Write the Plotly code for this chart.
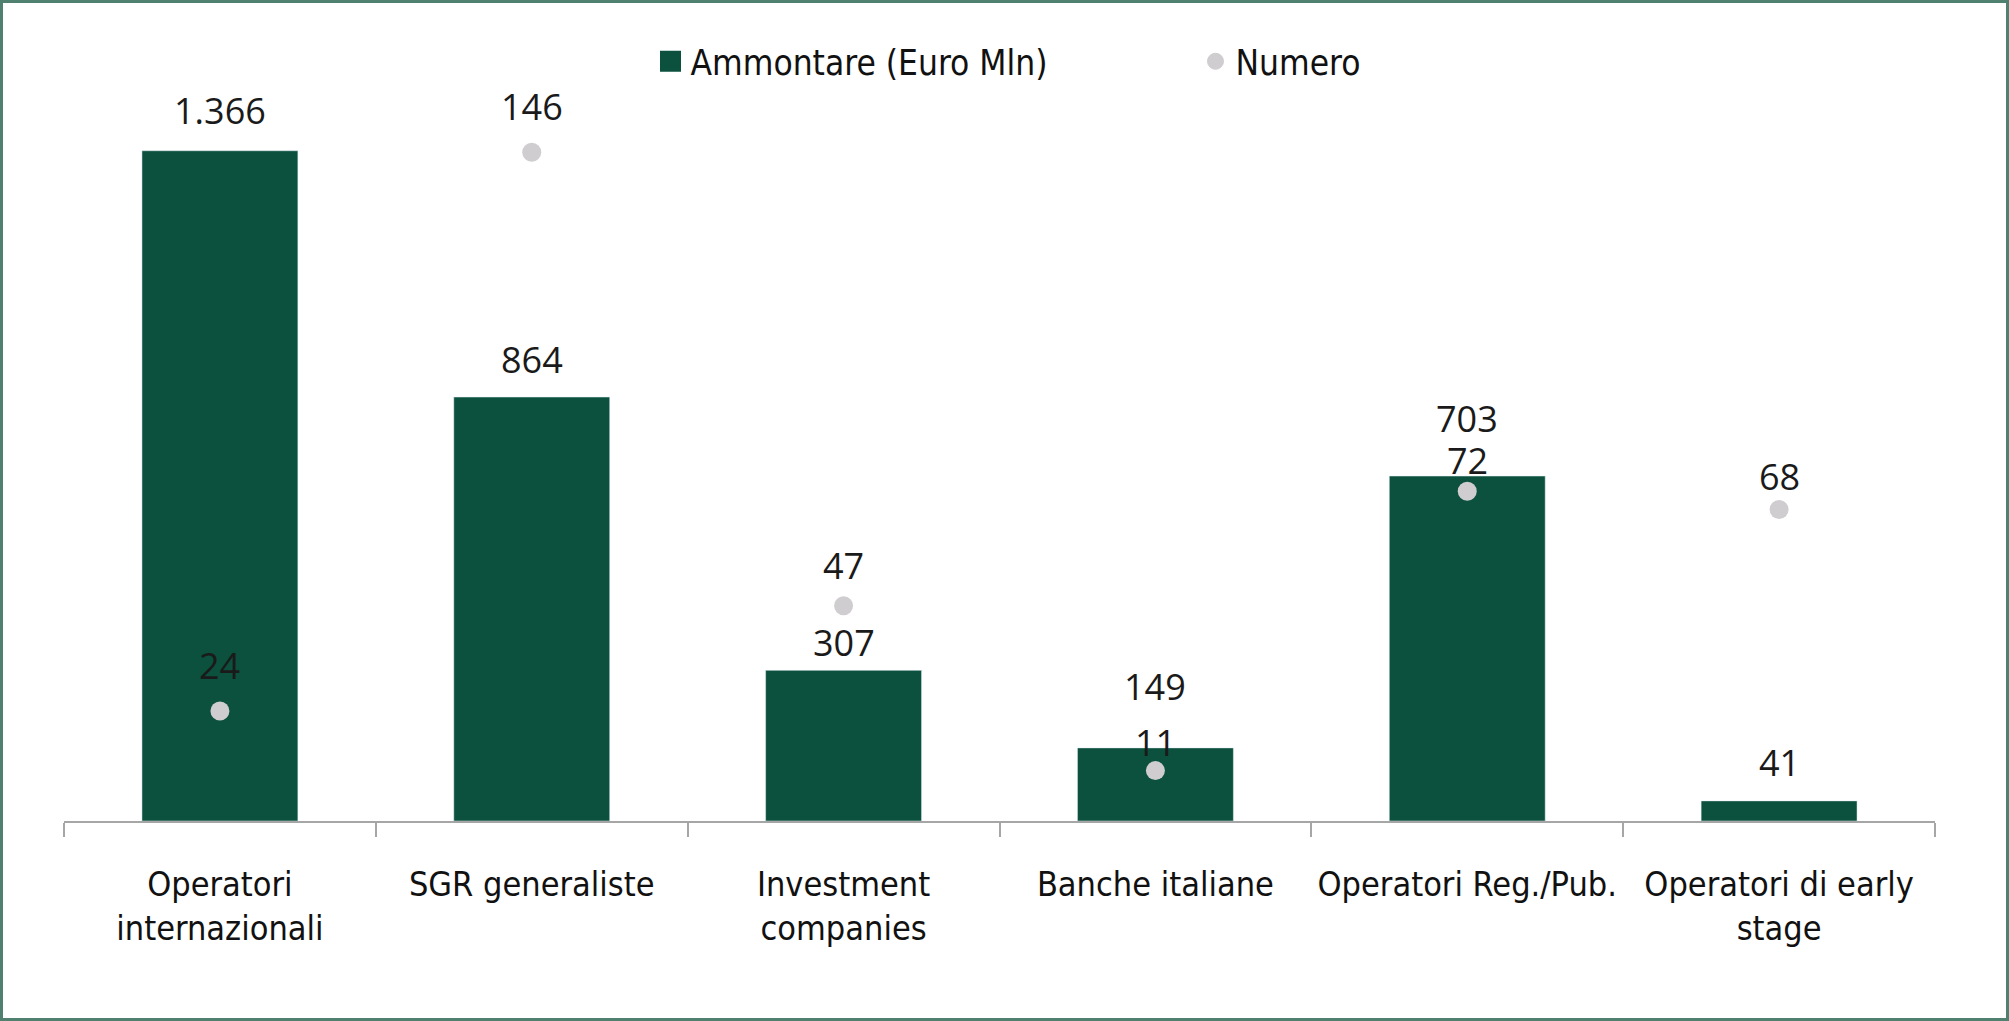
import plotly.graph_objects as go

categories = ["Operatori<br>internazionali", "SGR generaliste", "Investment<br>companies",
              "Banche italiane", "Operatori Reg./Pub.", "Operatori di early<br>stage"]
ammontare = [1366, 864, 307, 149, 703, 41]
numero = [24, 146, 47, 11, 72, 68]

# label offsets above the value (pixels), as placed in the original chart
bar_label_shift = [40, 38, 28, 61, 58, 38]
dot_label_shift = [46, 46, 40, 28, 31, 33]

BAR_COLOR = "#0b513d"
DOT_COLOR = "#d0cdd0"
CAT_FONT = "DejaVu Sans Condensed, Liberation Sans Narrow, sans-serif"
NUM_FONT = "Open Sans, Noto Sans, sans-serif"


def it_fmt(v):
    return f"{v:,}".replace(",", ".")


fig = go.Figure()
fig.add_trace(go.Bar(x=categories, y=ammontare, marker_color=BAR_COLOR, width=0.5,
                     showlegend=False, yaxis="y", hoverinfo="skip"))
fig.add_trace(go.Scatter(x=categories, y=numero, mode="markers", yaxis="y2",
                         marker=dict(color=DOT_COLOR, size=19), showlegend=False))
# legend entries
fig.add_trace(go.Scatter(x=[None], y=[None], mode="markers", name="Ammontare (Euro Mln)",
                         marker=dict(color=BAR_COLOR, size=26, symbol="square",
                                     line=dict(color=BAR_COLOR, width=5))))
fig.add_trace(go.Scatter(x=[None], y=[None], mode="markers", name="Numero", yaxis="y2",
                         marker=dict(color=DOT_COLOR, size=19,
                                     line=dict(color=DOT_COLOR, width=1))))

annotations = []
for c, v, s in zip(categories, ammontare, bar_label_shift):
    annotations.append(dict(x=c, y=v, xref="x", yref="y", text=it_fmt(v), showarrow=False,
                            yshift=s, font=dict(family=NUM_FONT, size=36, color="#1a1a1a")))
for c, v, s in zip(categories, numero, dot_label_shift):
    annotations.append(dict(x=c, y=v, xref="x", yref="y2", text=it_fmt(v), showarrow=False,
                            yshift=s, font=dict(family=NUM_FONT, size=36, color="#1a1a1a")))

W, H = 2009, 1021
L, R, T, B = 64, 74, 85, 200
pw, ph = W - L - R, H - T - B

fig.update_layout(
    width=W, height=H,
    margin=dict(l=L, r=R, t=T, b=B, pad=0, autoexpand=False),
    paper_bgcolor="white", plot_bgcolor="white",
    bargap=0.5,
    annotations=annotations,
    legend=dict(orientation="h", x=0.5 + 196 / pw, xanchor="center", y=1 + 23.5 / ph,
                yanchor="middle",
                font=dict(family=CAT_FONT, size=35, color="#111111"),
                entrywidth=500, entrywidthmode="pixels", itemsizing="trace"),
    xaxis=dict(type="category", showline=True, linecolor="#a6a6a6", linewidth=2,
               ticks="outside", tickson="boundaries", ticklen=14, tickcolor="#a6a6a6",
               tickwidth=2, ticklabelstandoff=32, tickangle=0, automargin=False,
               tickfont=dict(family=CAT_FONT, size=34, color="#111111"),
               showgrid=False, zeroline=False),
    yaxis=dict(range=[0, 1500], visible=False, showgrid=False, zeroline=False),
    yaxis2=dict(range=[0, ph / 4.58], overlaying="y", visible=False, showgrid=False,
                zeroline=False),
    shapes=[dict(type="rect", xref="paper", yref="paper",
                 x0=-L / pw + 1.5 / pw, x1=1 + R / pw - 1.5 / pw,
                 y0=-B / ph + 1.5 / ph, y1=1 + T / ph - 1.5 / ph,
                 line=dict(color="#4f8070", width=3), layer="above")],
)

fig.write_html("out.html", config={"displayModeBar": False},
               post_script="document.body.style.margin='0';")
